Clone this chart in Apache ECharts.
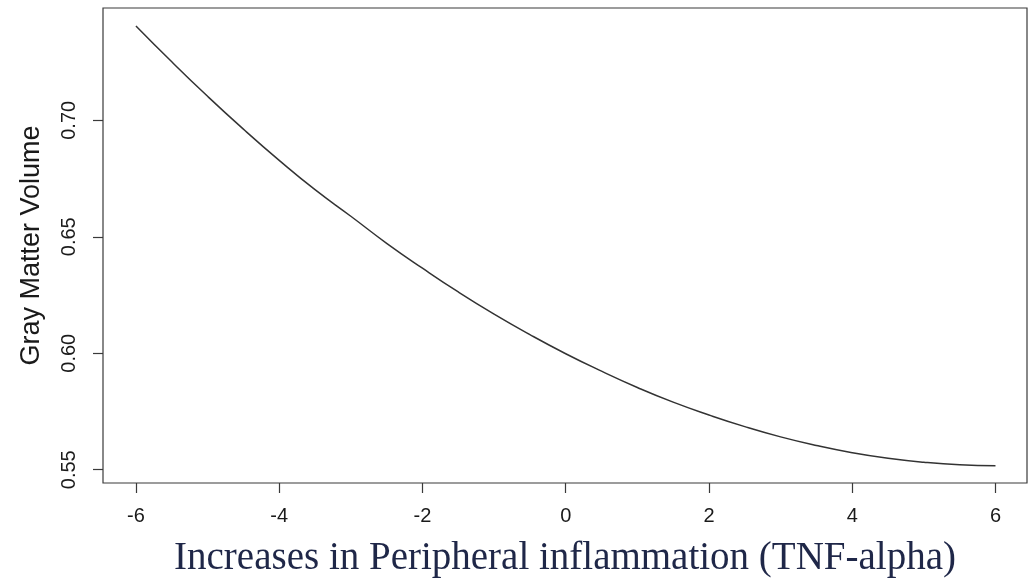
<!DOCTYPE html>
<html>
<head>
<meta charset="utf-8">
<script src="https://cdn.jsdelivr.net/npm/echarts@6/dist/echarts.min.js"></script>
<style>
  html, body { margin: 0; padding: 0; background: #ffffff; }
  #chart { width: 1031px; height: 584px; }
</style>
</head>
<body>
<div id="chart"></div>
<script>
// Fitted curve: gray matter volume against TNF-alpha change
const xValues = [-6, -5.5, -5, -4.5, -4, -3.5, -3, -2.5, -2, -1.5, -1, -0.5, 0,
                 0.5, 1, 1.5, 2, 2.5, 3, 3.5, 4, 4.5, 5, 5.5, 6];
const volume = [0.7405, 0.7251, 0.7103, 0.6962, 0.6828, 0.6702, 0.6588, 0.6472,
                0.6365, 0.6263, 0.6168, 0.6080, 0.5998, 0.5923, 0.5853, 0.5790,
                0.5735, 0.5685, 0.5641, 0.5604, 0.5573, 0.5549, 0.5532, 0.5521, 0.5517];
const xTicks = [-6, -4, -2, 0, 2, 4, 6];
const yTicks = [0.55, 0.60, 0.65, 0.70];

const xTitle = 'Increases in Peripheral inflammation (TNF-alpha)';
const yTitle = 'Gray Matter Volume';

const chart = echarts.init(document.getElementById('chart'), null, { renderer: 'canvas' });

const sans = '"Liberation Sans", Arial, sans-serif';
const frameColor = '#3a3a3a';

chart.setOption({
  animation: false,
  backgroundColor: '#ffffff',
  grid: {
    left: 103, right: 4, top: 8, bottom: 101,
    show: true,
    borderColor: frameColor,
    borderWidth: 1.2,
    backgroundColor: 'transparent'
  },
  xAxis: {
    type: 'value',
    min: -6.46,
    max: 6.44,
    name: xTitle,
    nameLocation: 'middle',
    nameGap: 56,
    nameTextStyle: {
      fontFamily: '"Liberation Serif", "Times New Roman", serif',
      fontSize: 39,
      color: '#1f2748'
    },
    axisLine: { show: false, onZero: false },
    splitLine: { show: false },
    axisTick: {
      show: true,
      customValues: xTicks,
      length: 10,
      lineStyle: { color: frameColor, width: 1.2 }
    },
    axisLabel: {
      customValues: xTicks,
      margin: 23,
      fontFamily: sans,
      fontSize: 20,
      color: '#1a1a1a',
      formatter: v => String(v)
    }
  },
  yAxis: {
    type: 'value',
    min: 0.5443,
    max: 0.7482,
    name: yTitle,
    nameLocation: 'middle',
    nameGap: 58,
    nameTextStyle: {
      fontFamily: sans,
      fontSize: 27,
      color: '#1a1a1a'
    },
    axisLine: { show: false, onZero: false },
    splitLine: { show: false },
    axisTick: {
      show: true,
      customValues: yTicks,
      length: 10,
      lineStyle: { color: frameColor, width: 1.2 }
    },
    axisLabel: {
      customValues: yTicks,
      rotate: 90,
      margin: 24,
      fontFamily: sans,
      fontSize: 20,
      color: '#1a1a1a',
      formatter: v => v.toFixed(2)
    }
  },
  series: [{
    type: 'line',
    data: xValues.map((x, i) => [x, volume[i]]),
    smooth: true,
    showSymbol: false,
    lineStyle: { color: '#333333', width: 1.5 }
  }]
});
</script>
</body>
</html>
